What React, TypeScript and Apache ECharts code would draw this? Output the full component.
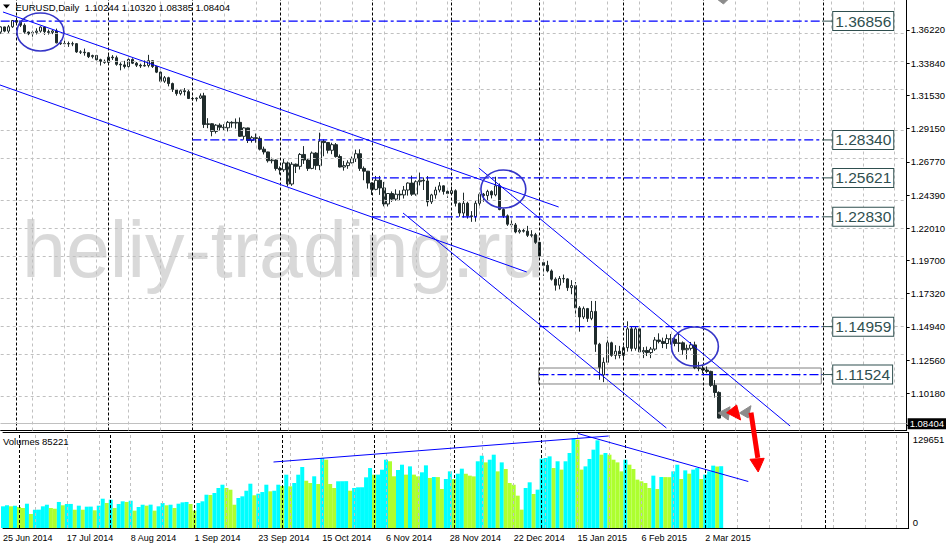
import React, { useEffect, useRef } from "react";
import * as echarts from "echarts";

const FONT = "'Liberation Sans', Arial, sans-serif";

const SYMBOL_TITLE = "EURUSD,Daily";
const VOLUME_TITLE = "Volumes";
const WATERMARK = "heliy-trading.ru";

const FIRST_DAY = "2014-06-25";
const HOLIDAYS = ["2014-12-25", "2015-01-01"];
const FUTURE_SLOTS = 47;
const LABEL_EVERY = 16;
const GRID_EVERY = 8;
const MONTH_NAMES = ["Jan", "Feb", "Mar", "Apr", "May", "Jun", "Jul", "Aug", "Sep", "Oct", "Nov", "Dec"];

// [open, high, low, close]
const CANDLES: number[][] = [
  [1.3607, 1.3648, 1.3593, 1.3644], [1.3644, 1.3646, 1.3606, 1.3614], [1.3614, 1.3658, 1.36, 1.3645], [1.3645, 1.3693, 1.3637, 1.369],
  [1.369, 1.37, 1.3668, 1.3678], [1.3678, 1.3681, 1.3643, 1.3656], [1.3656, 1.3669, 1.3594, 1.3607], [1.3607, 1.3611, 1.3585, 1.3595],
  [1.3595, 1.3617, 1.3574, 1.3605], [1.3605, 1.3634, 1.359, 1.3614], [1.3614, 1.3648, 1.3603, 1.3643], [1.3643, 1.3649, 1.3587, 1.361],
  [1.361, 1.3625, 1.3589, 1.3605], [1.3605, 1.3624, 1.3592, 1.3615], [1.3615, 1.3632, 1.3526, 1.353], [1.353, 1.3548, 1.3515, 1.3524],
  [1.3524, 1.3547, 1.3503, 1.3525], [1.3525, 1.3539, 1.3501, 1.3522], [1.3522, 1.3538, 1.3506, 1.3524], [1.3524, 1.3528, 1.3458, 1.3465],
  [1.3465, 1.3477, 1.345, 1.3463], [1.3463, 1.3489, 1.3438, 1.3459], [1.3459, 1.3462, 1.3421, 1.3431], [1.3431, 1.3445, 1.3418, 1.3439],
  [1.3439, 1.3444, 1.3404, 1.3409], [1.3409, 1.3416, 1.3367, 1.3397], [1.3397, 1.341, 1.338, 1.339], [1.339, 1.3444, 1.3378, 1.3428],
  [1.3428, 1.3442, 1.3407, 1.3423], [1.3423, 1.3438, 1.3366, 1.3376], [1.3376, 1.339, 1.3333, 1.3372], [1.3372, 1.3401, 1.3346, 1.336],
  [1.336, 1.3431, 1.335, 1.3411], [1.3411, 1.3419, 1.3378, 1.3384], [1.3384, 1.3393, 1.3357, 1.337], [1.337, 1.3381, 1.335, 1.3364],
  [1.3364, 1.3404, 1.336, 1.3368], [1.3368, 1.3444, 1.3354, 1.3402], [1.3402, 1.3404, 1.335, 1.336], [1.336, 1.3365, 1.3313, 1.332],
  [1.332, 1.3324, 1.3247, 1.3255], [1.3255, 1.3292, 1.3243, 1.328], [1.328, 1.3287, 1.3218, 1.3238], [1.3238, 1.3245, 1.3178, 1.3195],
  [1.3195, 1.32, 1.3151, 1.3166], [1.3166, 1.3196, 1.3154, 1.3186], [1.3186, 1.3206, 1.3152, 1.318], [1.318, 1.3199, 1.3127, 1.3131],
  [1.3131, 1.3144, 1.3116, 1.3129], [1.3129, 1.3139, 1.311, 1.3134], [1.3134, 1.3167, 1.3128, 1.315], [1.315, 1.3172, 1.292, 1.2945],
  [1.2945, 1.299, 1.2918, 1.295], [1.295, 1.2954, 1.286, 1.2895], [1.2895, 1.2947, 1.288, 1.294], [1.294, 1.2953, 1.2898, 1.2925],
  [1.2925, 1.2947, 1.2902, 1.2921], [1.2921, 1.297, 1.2895, 1.296], [1.296, 1.2968, 1.2922, 1.2955], [1.2955, 1.2988, 1.2915, 1.296],
  [1.296, 1.2995, 1.2855, 1.286], [1.286, 1.2925, 1.2836, 1.292], [1.292, 1.2922, 1.2812, 1.283], [1.283, 1.2863, 1.2815, 1.285],
  [1.285, 1.288, 1.2814, 1.2845], [1.2845, 1.286, 1.2759, 1.2768], [1.2768, 1.2786, 1.273, 1.2748], [1.2748, 1.275, 1.2672, 1.2685],
  [1.2685, 1.2707, 1.2666, 1.269], [1.269, 1.2694, 1.2614, 1.2629], [1.2629, 1.2644, 1.2586, 1.262], [1.262, 1.27, 1.2605, 1.2669],
  [1.2669, 1.2679, 1.25, 1.2518], [1.2518, 1.2675, 1.2505, 1.266], [1.266, 1.2665, 1.2597, 1.2645], [1.2645, 1.274, 1.2622, 1.273],
  [1.273, 1.279, 1.2662, 1.269], [1.269, 1.2704, 1.2612, 1.263], [1.263, 1.2751, 1.2624, 1.274], [1.274, 1.2746, 1.262, 1.265],
  [1.265, 1.2886, 1.2617, 1.2825], [1.2825, 1.2838, 1.2717, 1.2815], [1.2815, 1.2818, 1.2737, 1.276], [1.276, 1.2814, 1.2732, 1.28],
  [1.28, 1.2812, 1.2707, 1.2715], [1.2715, 1.273, 1.2637, 1.264], [1.264, 1.2684, 1.2614, 1.265], [1.265, 1.2688, 1.2627, 1.267],
  [1.267, 1.2715, 1.2666, 1.27], [1.27, 1.2764, 1.2676, 1.2735], [1.2735, 1.2767, 1.2612, 1.263], [1.263, 1.2644, 1.2545, 1.261],
  [1.261, 1.2612, 1.2485, 1.2525], [1.2525, 1.253, 1.244, 1.248], [1.248, 1.2576, 1.2473, 1.2545], [1.2545, 1.2576, 1.244, 1.249],
  [1.249, 1.2533, 1.2358, 1.2375], [1.2375, 1.2451, 1.2357, 1.245], [1.245, 1.2465, 1.239, 1.241], [1.241, 1.248, 1.2398, 1.2445],
  [1.2445, 1.2473, 1.2402, 1.244], [1.244, 1.2504, 1.2414, 1.2475], [1.2475, 1.253, 1.2435, 1.2525], [1.2525, 1.2578, 1.2433, 1.2445],
  [1.2445, 1.2545, 1.2434, 1.2535], [1.2535, 1.26, 1.2508, 1.2545], [1.2545, 1.2565, 1.2475, 1.254], [1.254, 1.2575, 1.2358, 1.239],
  [1.239, 1.2448, 1.2375, 1.244], [1.244, 1.2498, 1.2413, 1.2475], [1.2475, 1.2532, 1.2458, 1.2505], [1.2505, 1.2508, 1.2442, 1.2465],
  [1.2465, 1.2487, 1.2419, 1.245], [1.245, 1.25, 1.2441, 1.247], [1.247, 1.248, 1.2357, 1.238], [1.238, 1.2385, 1.2284, 1.231],
  [1.231, 1.2456, 1.2277, 1.238], [1.238, 1.2391, 1.227, 1.229], [1.229, 1.2324, 1.2247, 1.2285], [1.2285, 1.2403, 1.2248, 1.238],
  [1.238, 1.2457, 1.236, 1.2445], [1.2445, 1.2454, 1.2391, 1.2435], [1.2435, 1.2477, 1.2395, 1.2465], [1.2465, 1.2473, 1.2415, 1.244],
  [1.244, 1.257, 1.243, 1.2505], [1.2505, 1.2522, 1.233, 1.2335], [1.2335, 1.2345, 1.2275, 1.229], [1.229, 1.23, 1.2218, 1.223],
  [1.223, 1.2265, 1.2208, 1.2225], [1.2225, 1.2239, 1.2165, 1.2175], [1.2175, 1.2199, 1.2163, 1.2185], [1.2185, 1.2203, 1.217, 1.218],
  [1.218, 1.2218, 1.2138, 1.215], [1.215, 1.2187, 1.2136, 1.2155], [1.2155, 1.2168, 1.2089, 1.21], [1.21, 1.2104, 1.2, 1.2002],
  [1.1955, 1.1978, 1.186, 1.1935], [1.1935, 1.1968, 1.1885, 1.1895], [1.1895, 1.1906, 1.1826, 1.1836], [1.1836, 1.1849, 1.1754, 1.1793],
  [1.1793, 1.1858, 1.1763, 1.1841], [1.1841, 1.1869, 1.181, 1.1838], [1.1838, 1.1843, 1.1752, 1.1775], [1.1775, 1.1829, 1.1728, 1.179],
  [1.179, 1.1816, 1.1567, 1.163], [1.163, 1.1643, 1.146, 1.1565], [1.1565, 1.164, 1.155, 1.1625], [1.1625, 1.163, 1.153, 1.1555],
  [1.1555, 1.168, 1.1542, 1.1605], [1.1605, 1.168, 1.1315, 1.137], [1.137, 1.138, 1.1115, 1.1205], [1.115, 1.1275, 1.1098, 1.124],
  [1.124, 1.1423, 1.1225, 1.138], [1.138, 1.1388, 1.128, 1.129], [1.129, 1.1363, 1.1262, 1.132], [1.132, 1.1358, 1.1268, 1.129],
  [1.129, 1.136, 1.127, 1.1345], [1.1345, 1.1534, 1.1317, 1.148], [1.148, 1.1498, 1.1319, 1.134], [1.134, 1.1497, 1.1324, 1.148],
  [1.148, 1.1487, 1.1314, 1.1315], [1.1315, 1.1349, 1.127, 1.1325], [1.1325, 1.1353, 1.1285, 1.131], [1.131, 1.135, 1.127, 1.1335],
  [1.1335, 1.1421, 1.1322, 1.14], [1.14, 1.1448, 1.1376, 1.139], [1.139, 1.1417, 1.1342, 1.1375], [1.1375, 1.144, 1.1337, 1.141],
  [1.141, 1.1443, 1.1367, 1.1405], [1.1405, 1.1433, 1.1355, 1.1375], [1.1375, 1.1448, 1.1315, 1.138], [1.138, 1.139, 1.1294, 1.133],
  [1.133, 1.1367, 1.1261, 1.134], [1.134, 1.1386, 1.1325, 1.1365], [1.1365, 1.1388, 1.1191, 1.12], [1.12, 1.1244, 1.1176, 1.1195],
  [1.1195, 1.1223, 1.116, 1.1185], [1.1185, 1.121, 1.1162, 1.1175], [1.1175, 1.118, 1.1064, 1.1075], [1.1075, 1.1113, 1.0987, 1.1024],
  [1.10244, 1.1032, 1.08385, 1.08404],
];

const VOLUMES: number[] = [
  29900, 31300, 29900, 30800, 29000, 27600, 33500, 19300, 25200, 25300,
  29900, 32100, 27600, 26600, 35900, 31300, 33100, 33200, 25200, 30800,
  25200, 29400, 29500, 24400, 30800, 40400, 34500, 39000, 27600, 33100,
  36800, 35900, 37600, 23900, 29000, 32100, 30800, 32200, 23900, 29900,
  34500, 31300, 32100, 27600, 33500, 35400, 35900, 33100, 23900, 34500,
  36800, 45900, 45500, 48300, 55200, 59700, 55200, 52800, 32100, 41400,
  43700, 51400, 61100, 45100, 47300, 49600, 59700, 50600, 51400, 59700,
  58000, 73500, 57500, 62100, 73500, 84100, 65200, 62100, 71300, 60700,
  96500, 94200, 60700, 55200, 64400, 64500, 64600, 51400, 55200, 56100,
  56200, 69900, 82700, 73500, 73600, 80400, 94200, 92000, 71300, 80000,
  87300, 73600, 85000, 73600, 71200, 76800, 86400, 69000, 70300, 70200,
  53800, 67600, 78100, 67500, 74900, 81800, 74800, 72200, 71200, 92000,
  99700, 90500, 94200, 101100, 78100, 90500, 81400, 62100, 59800, 44600,
  25300, 55200, 63000, 46900, 52900, 95600, 96500, 98800, 82700, 92000,
  80500, 92000, 103400, 123200, 121800, 80500, 85000, 95200, 108000, 120900,
  101100, 103400, 101100, 94200, 90500, 78100, 94200, 87300, 81400, 66700,
  64400, 62100, 55200, 72200, 53800, 70300, 70200, 70100, 78100, 87300,
  67600, 79500, 74900, 80500, 82700, 67600, 73600, 78100, 86000, 84800,
  85221,
];

const PRICE_TICKS = [1.3622, 1.3384, 1.3153, 1.2915, 1.2677, 1.2439, 1.2201, 1.197, 1.1732, 1.1494, 1.1256, 1.1018, 1.0787];
const PRICE_MIN = 1.075144;
const PRICE_MAX = 1.3837;
const VOLUME_SCALE_MAX = 129651;
const VOLUME_AXIS_MAX = 131700;

const LEVELS = [1.36856, 1.2834, 1.25621, 1.2283, 1.14959, 1.11524];
const LEVEL_FROM = [0, 48, 93, 93, 135, 135];
const LEVEL_END = 205.8;
const LEVEL_TAG = 208.6;

const SUPPORT_BOX = [[134.8, 1.11994], [205.6, 1.10848]];
const MONTH_STARTS = [4, 27, 48, 70, 93, 113, 135, 156, 176, 206];

const TREND_LINES: number[][][] = [
  [[0.575, 1.3751], [139.8, 1.23534]],
  [[-0.175, 1.32278], [131.8, 1.18875]],
  [[100.8, 1.23104], [166.8, 1.07694]],
  [[119.8, 1.26329], [197.8, 1.07837]],
];
const VOLUME_LINES: number[][][] = [
  [[67.8, 91014], [151.8, 126868]],
  [[144.1, 130316], [186.8, 64124]],
];
// [centre index, centre price, x radius in bars, y radius in price]
const ELLIPSES: number[][] = [
  [9.95, 1.36077, 5.875, 0.01362],
  [125.95, 1.24824, 5.625, 0.01362],
  [173.95, 1.13535, 5.875, 0.01398],
];
const MARKERS: { kind: string; pts: number[][] }[] = [
  { kind: "grey", pts: [[179.8, 1.08769], [182.75, 1.0922], [182.3, 1.08267]] },
  { kind: "grey", pts: [[185.1, 1.08769], [188.0, 1.09293], [187.3, 1.0841]] },
  { kind: "red", pts: [[181.9, 1.08791], [184.4, 1.09342], [185.4, 1.08267]] },
  { kind: "shaft", pts: [[188.0, 1.08791], [189.7, 1.0555]] },
  { kind: "red", pts: [[187.75, 1.05451], [191.3, 1.05523], [189.8, 1.04541]] },
  { kind: "grey", pts: [[179.8, 1.3837], [182.1, 1.3837], [181.1, 1.38083]] },
];

function buildDates(): string[] {
  const out: string[] = [];
  const d = new Date(FIRST_DAY + "T00:00:00Z");
  while (out.length < CANDLES.length) {
    const wd = d.getUTCDay();
    const iso = d.toISOString().slice(0, 10);
    if (wd !== 0 && wd !== 6 && HOLIDAYS.indexOf(iso) < 0) {
      out.push(`${d.getUTCDate()} ${MONTH_NAMES[d.getUTCMonth()]} ${d.getUTCFullYear()}`);
    }
    d.setUTCDate(d.getUTCDate() + 1);
  }
  return out;
}

function buildOption(): any {
  const dates = buildDates();
  const total = CANDLES.length + FUTURE_SLOTS;
  const categories = dates.concat(new Array(FUTURE_SLOTS).fill(""));
  const last = CANDLES[CANDLES.length - 1];
  const lastClose = last[3];
  const header = `${SYMBOL_TITLE}  ${last.map((v) => v.toFixed(5)).join(" ")}`;

  const greyDash = { color: "#C0C0C0", width: 1, type: [3, 3] };
  const blackDash = { color: "#000000", width: 1, type: [3, 2] };

  const vGrey: any[] = [];
  for (let i = GRID_EVERY; i < total; i += GRID_EVERY) {
    if (MONTH_STARTS.indexOf(i) < 0) vGrey.push({ xAxis: i });
  }
  const vBlack = MONTH_STARTS.map((i) => ({ xAxis: i, lineStyle: blackDash }));

  const series: any[] = [];

  series.push({
    type: "line", name: "grid-main", xAxisIndex: 2, yAxisIndex: 0, data: [], z: 1, silent: true,
    markLine: {
      silent: true, symbol: ["none", "none"], label: { show: false }, lineStyle: greyDash,
      data: [...PRICE_TICKS.map((v) => ({ yAxis: v })), ...vGrey, ...vBlack],
    },
  });

  series.push({
    type: "candlestick", name: "EURUSD", xAxisIndex: 0, yAxisIndex: 0, z: 3, barWidth: 3,
    data: CANDLES.map(([o, h, l, c]) => [o, c, l, h]),
    itemStyle: { color: "#FFFFFF", color0: "#1F2B2B", borderColor: "#1F2B2B", borderColor0: "#1F2B2B", borderWidth: 1 },
  });

  series.push({
    type: "line", name: "last", xAxisIndex: 2, yAxisIndex: 0, data: [], z: 2, silent: true,
    markLine: {
      silent: true, symbol: ["none", "none"],
      data: [{
        yAxis: lastClose,
        lineStyle: { color: "#C0C0C0", width: 1, type: "solid" },
        label: {
          show: true, position: "end", formatter: lastClose.toFixed(5), distance: 1,
          backgroundColor: "#000000", color: "#FFFFFF", padding: [1, 2, 0, 2],
          fontSize: 9.5, fontFamily: FONT,
        },
      }],
    },
  });

  series.push({
    type: "line", name: "box", xAxisIndex: 2, yAxisIndex: 0, data: [], z: 4, silent: true,
    markArea: {
      silent: true,
      itemStyle: { color: "rgba(0,0,0,0)", borderColor: "#808080", borderWidth: 1 },
      data: [[{ coord: SUPPORT_BOX[0] }, { coord: SUPPORT_BOX[1] }]],
    },
  });

  LEVELS.forEach((lv, k) => {
    series.push({
      type: "line", xAxisIndex: 2, yAxisIndex: 0, symbol: "none", silent: true, z: 5, clip: false,
      data: [[LEVEL_FROM[k], lv], [LEVEL_END, lv]],
      lineStyle: { color: "#0000FF", width: 1.2, type: [9, 3, 3, 3] },
    });
    series.push({
      type: "line", xAxisIndex: 2, yAxisIndex: 0, symbol: "none", silent: true, z: 5, clip: false,
      data: [[LEVEL_END, lv], [LEVEL_TAG, lv]],
      lineStyle: { color: "#2F4F4F", width: 1 },
      endLabel: {
        show: true, formatter: lv.toFixed(5), distance: 0,
        fontSize: 15.5, fontFamily: FONT, color: "#2F4F4F",
        backgroundColor: "#FFFFFF", borderColor: "#2F4F4F", borderWidth: 1, padding: [2, 2, 0, 2],
      },
    });
  });

  TREND_LINES.forEach((pts) => {
    series.push({
      type: "line", xAxisIndex: 2, yAxisIndex: 0, symbol: "none", silent: true, z: 5, clip: false,
      data: pts, lineStyle: { color: "#0000FF", width: 1 },
    });
  });

  series.push({
    type: "custom", name: "ellipses", xAxisIndex: 2, yAxisIndex: 0, z: 6, clip: false, silent: true,
    data: ELLIPSES,
    renderItem: (params: any, api: any) => {
      const c = api.coord([api.value(0), api.value(1)]);
      const s = api.size([api.value(2), api.value(3)]);
      return {
        type: "ellipse",
        shape: { cx: c[0], cy: c[1], rx: s[0], ry: s[1] },
        style: { fill: "none", stroke: "#3535C8", lineWidth: 1.6 },
      };
    },
  });

  series.push({
    type: "custom", name: "arrows", xAxisIndex: 2, yAxisIndex: 0, z: 7, clip: false, silent: true,
    data: MARKERS.map((m) => m.pts[0]),
    renderItem: (params: any, api: any) => {
      const m = MARKERS[params.dataIndex];
      const pts = m.pts.map((p) => api.coord(p));
      if (m.kind === "shaft") {
        return { type: "polyline", shape: { points: pts }, style: { stroke: "#FF0000", lineWidth: 5, fill: "none" } };
      }
      const fill = m.kind === "red" ? "#FF0000" : "#8C8C8C";
      return { type: "polygon", shape: { points: pts }, style: { fill, stroke: fill, lineWidth: 1 } };
    },
  });

  series.push({
    type: "bar", name: "Volumes", xAxisIndex: 1, yAxisIndex: 1, barWidth: 4, z: 2, silent: true,
    data: VOLUMES.map((v, i) => ({
      value: v,
      itemStyle: { color: i > 0 && v <= VOLUMES[i - 1] ? "#ADFF2F" : "#00FFFF" },
    })),
  });

  series.push({
    type: "line", name: "grid-vol", xAxisIndex: 3, yAxisIndex: 1, data: [], z: 4, silent: true,
    markLine: {
      silent: true, symbol: ["none", "none"], label: { show: false }, lineStyle: greyDash,
      data: [...vGrey, ...vBlack],
    },
  });

  VOLUME_LINES.forEach((pts) => {
    series.push({
      type: "line", xAxisIndex: 3, yAxisIndex: 1, symbol: "none", silent: true, z: 5, clip: false,
      data: pts, lineStyle: { color: "#0000FF", width: 1 },
    });
  });

  const axisLineBlack = { show: true, onZero: false, lineStyle: { color: "#000000", width: 1 } };

  return {
    animation: false,
    backgroundColor: "#FFFFFF",
    textStyle: { fontFamily: FONT },
    grid: [
      { left: 0.7, top: 0, width: 908, height: 430.5 },
      { left: 0.7, top: 432.5, width: 908, height: 95.5 },
    ],
    xAxis: [
      {
        type: "category", gridIndex: 0, data: categories, boundaryGap: false,
        axisLine: axisLineBlack, axisTick: { show: false }, axisLabel: { show: false }, splitLine: { show: false },
      },
      {
        type: "category", gridIndex: 1, data: categories, boundaryGap: false,
        axisLine: axisLineBlack, axisTick: { show: false }, splitLine: { show: false },
        axisLabel: {
          interval: (i: number) => i % LABEL_EVERY === 0,
          align: "left", color: "#000000", fontSize: 9, fontFamily: FONT, margin: 5,
        },
      },
      { type: "value", gridIndex: 0, min: 0, max: total - 1, show: false },
      {
        type: "value", gridIndex: 1, min: 0, max: total - 1, position: "top",
        axisLine: axisLineBlack, axisTick: { show: false }, axisLabel: { show: false }, splitLine: { show: false },
      },
    ],
    yAxis: [
      {
        type: "value", gridIndex: 0, position: "right", min: PRICE_MIN, max: PRICE_MAX,
        axisLine: axisLineBlack, splitLine: { show: false },
        axisTick: { show: true, customValues: PRICE_TICKS, length: 3, lineStyle: { color: "#000" } },
        axisLabel: {
          customValues: PRICE_TICKS, formatter: (v: number) => v.toFixed(5),
          color: "#000000", fontSize: 9.5, fontFamily: FONT, margin: 4,
        },
      },
      {
        type: "value", gridIndex: 1, position: "right", min: 0, max: VOLUME_AXIS_MAX,
        axisLine: axisLineBlack, splitLine: { show: false }, axisTick: { show: false },
        axisLabel: {
          customValues: [0, VOLUME_SCALE_MAX],
          formatter: (v: number) => (v === 0 ? "{b|0}" : `{t|${VOLUME_SCALE_MAX}}`),
          margin: 4,
          rich: {
            t: { padding: [12, 0, 0, 0], color: "#000000", fontSize: 9.5, fontFamily: FONT },
            b: { padding: [0, 0, 12, 0], color: "#000000", fontSize: 9.5, fontFamily: FONT },
          },
        },
      },
    ],
    graphic: [
      {
        type: "text", x: 22, y: 249.6, z: 0, silent: true,
        style: {
          text: WATERMARK, fontSize: 79, fontFamily: FONT, fill: "#D9D9D9",
          verticalAlign: "middle", textVerticalAlign: "middle",
        },
      },
      { type: "polygon", z: 10, silent: true, shape: { points: [[3, 4.5], [10, 4.5], [6.5, 8.5]] }, style: { fill: "#000000" } },
      {
        type: "text", x: 15.5, y: 7.5, z: 10, silent: true,
        style: { text: header, fontSize: 9.5, fontFamily: FONT, fill: "#000000", verticalAlign: "middle", textVerticalAlign: "middle" },
      },
      {
        type: "text", x: 3, y: 441, z: 10, silent: true,
        style: {
          text: `${VOLUME_TITLE} ${VOLUMES[VOLUMES.length - 1]}`, fontSize: 9.5, fontFamily: FONT, fill: "#000000",
          verticalAlign: "middle", textVerticalAlign: "middle",
        },
      },
    ],
    series,
  };
}

export default function App() {
  const ref = useRef<HTMLDivElement>(null);
  useEffect(() => {
    document.body.style.margin = "0";
    const chart = echarts.init(ref.current as HTMLDivElement, undefined, { renderer: "svg" });
    chart.setOption(buildOption());
    return () => chart.dispose();
  }, []);
  return <div ref={ref} style={{ width: 948, height: 547 }} />;
}
